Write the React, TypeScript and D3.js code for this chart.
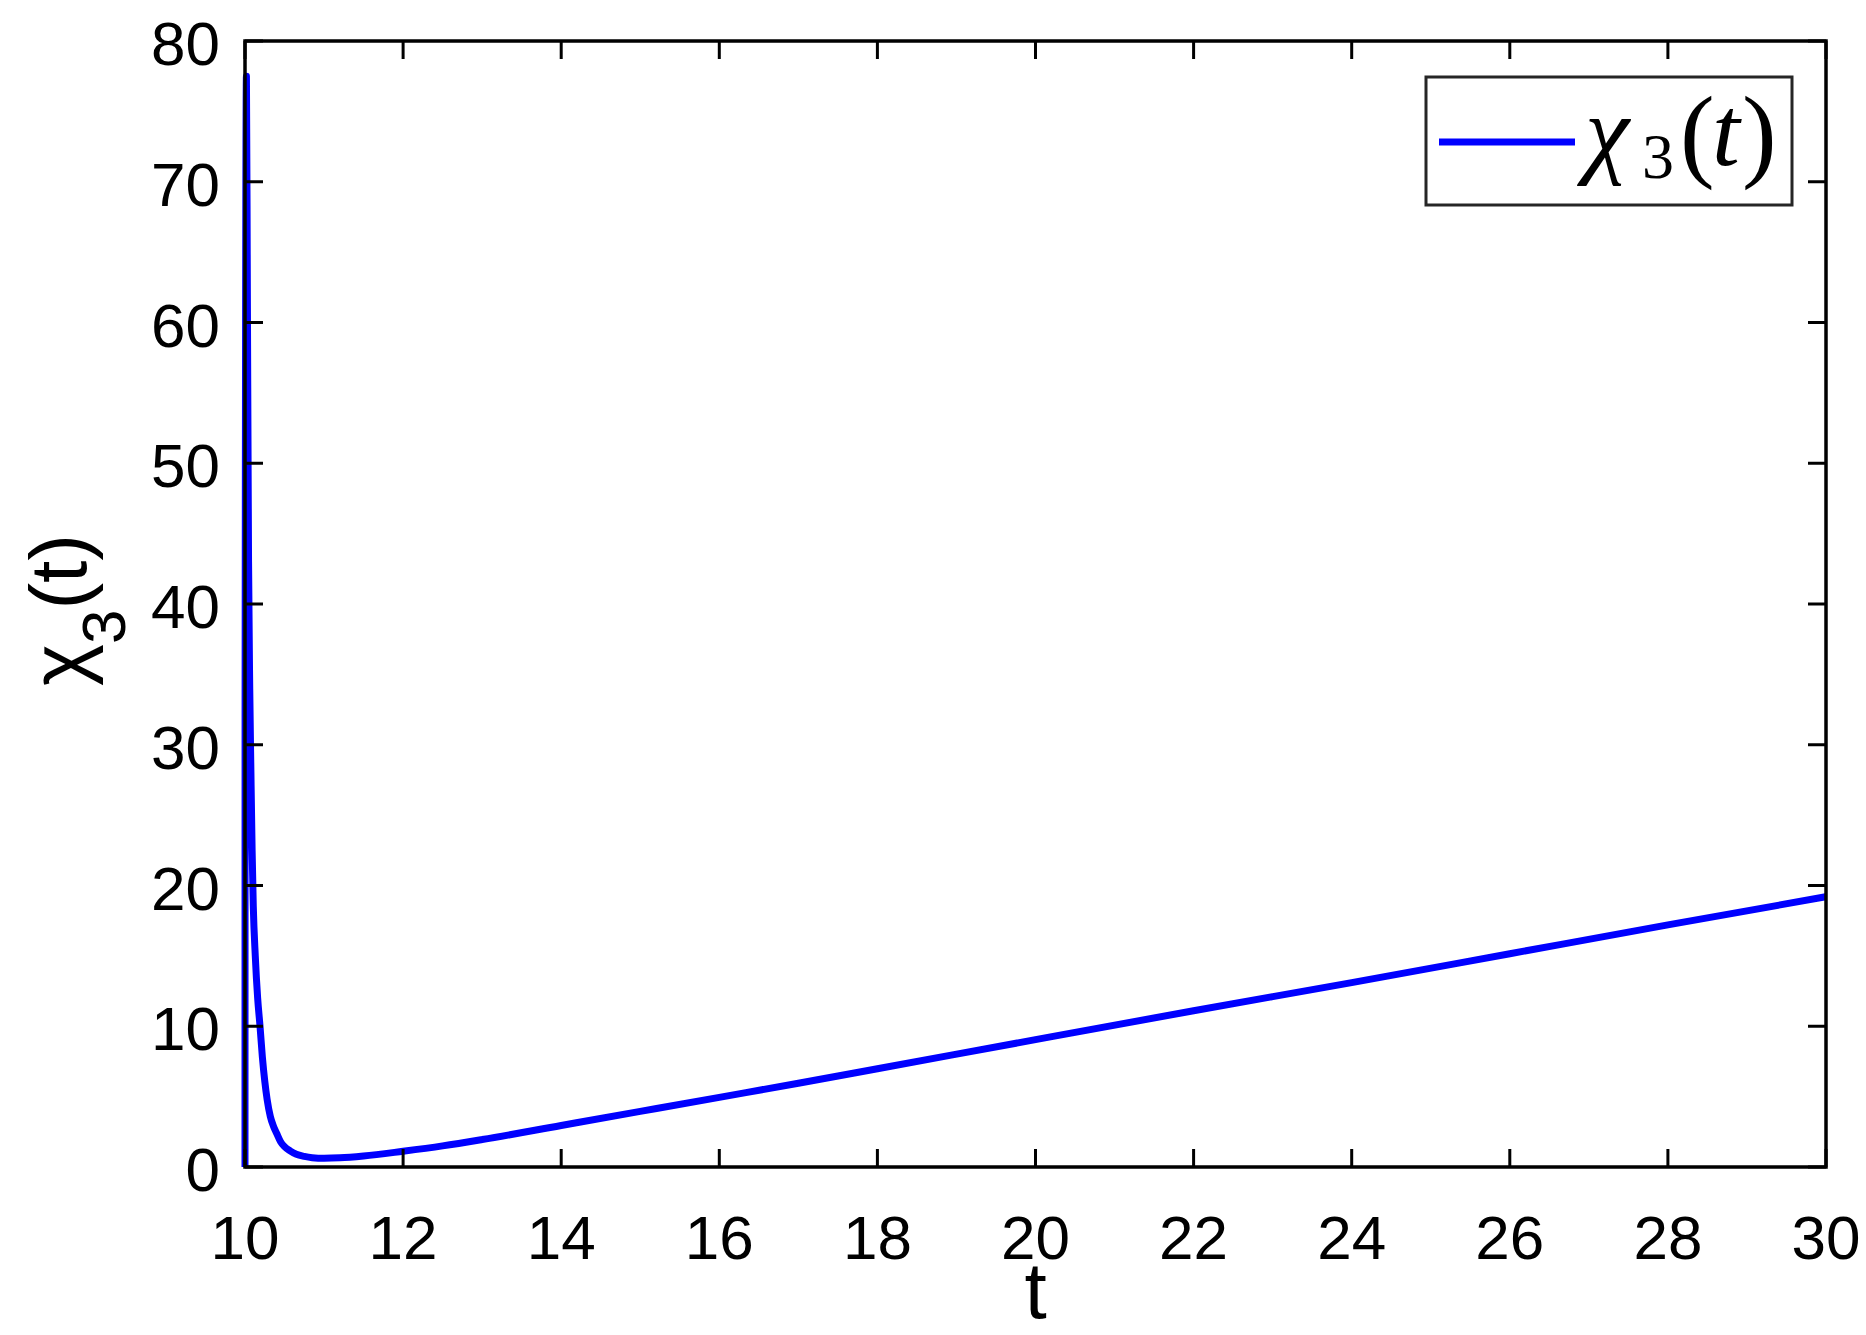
import React from "react";
import * as d3 from "d3";

const tValues = [10, 10.001, 10.018, 10.03, 10.045, 10.06, 10.075, 10.09, 10.105, 10.13, 10.16, 10.19, 10.22, 10.25, 10.28, 10.32, 10.36, 10.4, 10.45, 10.5, 10.57, 10.65, 10.75, 10.85, 11.0, 11.2, 11.5, 12, 12.5, 13, 14, 15, 16, 17, 18, 20, 22, 24, 26, 28, 30];
const chiValues = [0, 32, 77.5, 62, 43, 34, 28, 22.5, 18.5, 15, 12, 10, 7.8, 6.1, 4.8, 3.6, 2.9, 2.4, 1.8, 1.45, 1.15, 0.9, 0.75, 0.66, 0.62, 0.65, 0.78, 1.12, 1.5, 1.95, 2.95, 3.95, 4.95, 5.95, 6.98, 9.05, 11.1, 13.1, 15.15, 17.2, 19.2];
const xTicks = [10, 12, 14, 16, 18, 20, 22, 24, 26, 28, 30];
const yTicks = [0, 10, 20, 30, 40, 50, 60, 70, 80];
const legendLabel = ["χ", "3", "(", "t", ")"];

const W = 1866, H = 1335;
const L = 245, R = 1826, T = 41, B = 1167;
const tickLen = 18;
const sans = "'Liberation Sans', Arial, Helvetica, sans-serif";
const serif = "'Liberation Serif', 'Times New Roman', serif";

export default function App() {
  const x = d3.scaleLinear().domain([10, 30]).range([L, R]);
  const y = d3.scaleLinear().domain([0, 80]).range([B, T]);
  const data = tValues.map((t, i) => [t, chiValues[i]] as [number, number]);
  const line = d3.line<[number, number]>().x(d => x(d[0])).y(d => y(d[1])).curve(d3.curveMonotoneX);

  return (
    <svg width={W} height={H} style={{ position: "absolute", left: 0, top: 0, background: "#fff" }}>
      <rect x={0} y={0} width={W} height={H} fill="#fff" />
      <path d={line(data) || ""} fill="none" stroke="#0000ff" strokeWidth={7} strokeLinejoin="round" />
      <rect x={L} y={T} width={R - L} height={B - T} fill="none" stroke="#000" strokeWidth={3.5} />
      {xTicks.map(t => (
        <g key={"x" + t}>
          <line x1={x(t)} x2={x(t)} y1={B} y2={B - tickLen} stroke="#000" strokeWidth={3} />
          <line x1={x(t)} x2={x(t)} y1={T} y2={T + tickLen} stroke="#000" strokeWidth={3} />
          <text x={x(t)} y={B + 92} fontFamily={sans} fontSize={62} textAnchor="middle" fill="#000">{t}</text>
        </g>
      ))}
      {yTicks.map(v => (
        <g key={"y" + v}>
          <line x1={L} x2={L + tickLen} y1={y(v)} y2={y(v)} stroke="#000" strokeWidth={3} />
          <line x1={R} x2={R - tickLen} y1={y(v)} y2={y(v)} stroke="#000" strokeWidth={3} />
          <text x={L - 25} y={y(v) + 24} fontFamily={sans} fontSize={62} textAnchor="end" fill="#000">{v}</text>
        </g>
      ))}
      <text x={(L + R) / 2} y={1318} fontFamily={sans} fontSize={80} textAnchor="middle" fill="#000">t</text>
      <text transform={`translate(86, 610) rotate(-90)`} fontFamily={sans} fontSize={80} textAnchor="middle" fill="#000">
        χ<tspan fontSize={62} dy={39}>3</tspan><tspan dy={-39}>(t)</tspan>
      </text>
      <rect x={1426} y={77} width={366} height={128} fill="#fff" stroke="#262626" strokeWidth={3} />
      <line x1={1439} x2={1575} y1={142} y2={142} stroke="#0000ff" strokeWidth={7} />
      <g fontFamily={serif} fill="#000">
        <text x={1585} y={165} fontSize={100} fontStyle="italic">{legendLabel[0]}</text>
        <text x={1642} y={178} fontSize={64}>{legendLabel[1]}</text>
        <text x={1680} y={168} fontSize={104}>{legendLabel[2]}</text>
        <text x={1712} y={165} fontSize={100} fontStyle="italic">{legendLabel[3]}</text>
        <text x={1742} y={168} fontSize={104}>{legendLabel[4]}</text>
      </g>
    </svg>
  );
}
